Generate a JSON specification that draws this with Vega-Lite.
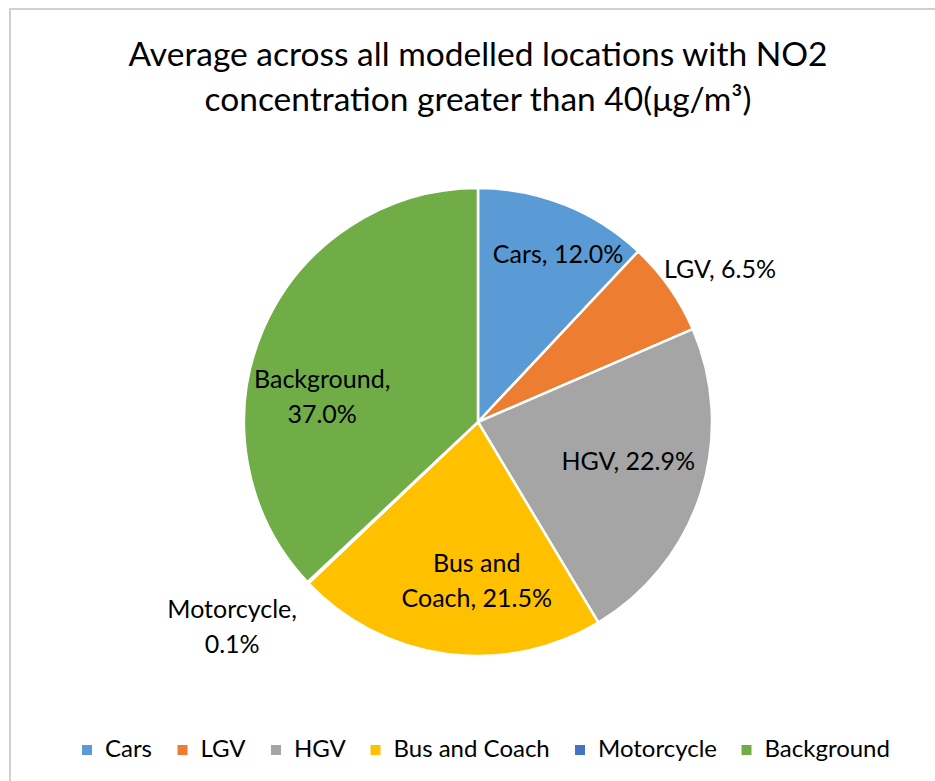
{
  "$schema": "https://vega.github.io/schema/vega-lite/v6.json",
  "width": 936,
  "height": 826,
  "autosize": {"type": "none"},
  "padding": {"left": 10, "top": 9, "right": 0, "bottom": 0},
  "background": "white",
  "view": {"stroke": "#d0d0d0", "strokeWidth": 2},
  "config": {
    "view": {"stroke": "#d0d0d0", "strokeWidth": 2},
    "font": "Lato"
  },
  "title": {
    "text": ["Average across all modelled locations with NO2", "concentration greater than 40(μg/m³)"],
    "fontSize": 33.5,
    "fontWeight": "normal",
    "font": "Lato",
    "color": "#000000",
    "anchor": "middle",
    "frame": "group",
    "offset": -109,
    "lineHeight": 45
  },
  "data": {
    "values": [
      {"category": "Cars", "share": 12.0, "order": 1, "label": "Cars, 12.0%"},
      {"category": "LGV", "share": 6.5, "order": 2, "label": "LGV, 6.5%"},
      {"category": "HGV", "share": 22.9, "order": 3, "label": "HGV, 22.9%"},
      {"category": "Bus and Coach", "share": 21.5, "order": 4, "label": "Bus and\nCoach, 21.5%"},
      {"category": "Motorcycle", "share": 0.1, "order": 5, "label": "Motorcycle,\n0.1%"},
      {"category": "Background", "share": 37.0, "order": 6, "label": "Background,\n37.0%"}
    ]
  },
  "encoding": {
    "theta": {"field": "share", "type": "quantitative", "stack": true},
    "order": {"field": "order", "type": "quantitative"}
  },
  "layer": [
    {
      "mark": {"type": "arc", "outerRadius": 234, "stroke": "white", "strokeWidth": 2.5},
      "encoding": {
        "color": {
          "field": "category",
          "type": "nominal",
          "scale": {
            "domain": ["Cars", "LGV", "HGV", "Bus and Coach", "Motorcycle", "Background"],
            "range": ["#5B9BD5", "#ED7D31", "#A5A5A5", "#FFC000", "#4472C4", "#70AD47"]
          },
          "legend": {
            "orient": "none",
            "legendX": 65,
            "legendY": 729,
            "direction": "horizontal",
            "title": null,
            "symbolType": "square",
            "symbolSize": 100,
            "symbolStrokeWidth": 0,
            "labelFontSize": 24,
            "labelFont": "Lato",
            "labelColor": "#000000",
            "labelOffset": 6,
            "columnPadding": 17.5,
            "labelLimit": 400
          }
        }
      }
    },
    {
      "mark": {"type": "text", "radius": 185, "dx": 12, "dy": 5, "fontSize": 25, "font": "Lato", "color": "#000000", "baseline": "middle", "align": "center", "lineBreak": "\n", "lineHeight": 35},
      "encoding": {"text": {"condition": {"test": "datum.category === 'Cars'", "field": "label"}, "value": ""}}
    },
    {
      "mark": {"type": "text", "radius": 286, "dx": 8, "dy": 12, "fontSize": 25, "font": "Lato", "color": "#000000", "baseline": "middle", "align": "center", "lineBreak": "\n", "lineHeight": 35},
      "encoding": {"text": {"condition": {"test": "datum.category === 'LGV'", "field": "label"}, "value": ""}}
    },
    {
      "mark": {"type": "text", "radius": 142, "dx": 15, "dy": -3, "fontSize": 25, "font": "Lato", "color": "#000000", "baseline": "middle", "align": "center", "lineBreak": "\n", "lineHeight": 35},
      "encoding": {"text": {"condition": {"test": "datum.category === 'HGV'", "field": "label"}, "value": ""}}
    },
    {
      "mark": {"type": "text", "radius": 158, "dx": 20, "dy": -15, "fontSize": 25, "font": "Lato", "color": "#000000", "baseline": "middle", "align": "center", "lineBreak": "\n", "lineHeight": 35},
      "encoding": {"text": {"condition": {"test": "datum.category === 'Bus and Coach'", "field": "label"}, "value": ""}}
    },
    {
      "mark": {"type": "text", "radius": 330, "dx": -6, "dy": -39, "fontSize": 25, "font": "Lato", "color": "#000000", "baseline": "middle", "align": "center", "lineBreak": "\n", "lineHeight": 35},
      "encoding": {"text": {"condition": {"test": "datum.category === 'Motorcycle'", "field": "label"}, "value": ""}}
    },
    {
      "mark": {"type": "text", "radius": 160, "dx": -9, "dy": 22, "fontSize": 25, "font": "Lato", "color": "#000000", "baseline": "middle", "align": "center", "lineBreak": "\n", "lineHeight": 35},
      "encoding": {"text": {"condition": {"test": "datum.category === 'Background'", "field": "label"}, "value": ""}}
    }
  ]
}
